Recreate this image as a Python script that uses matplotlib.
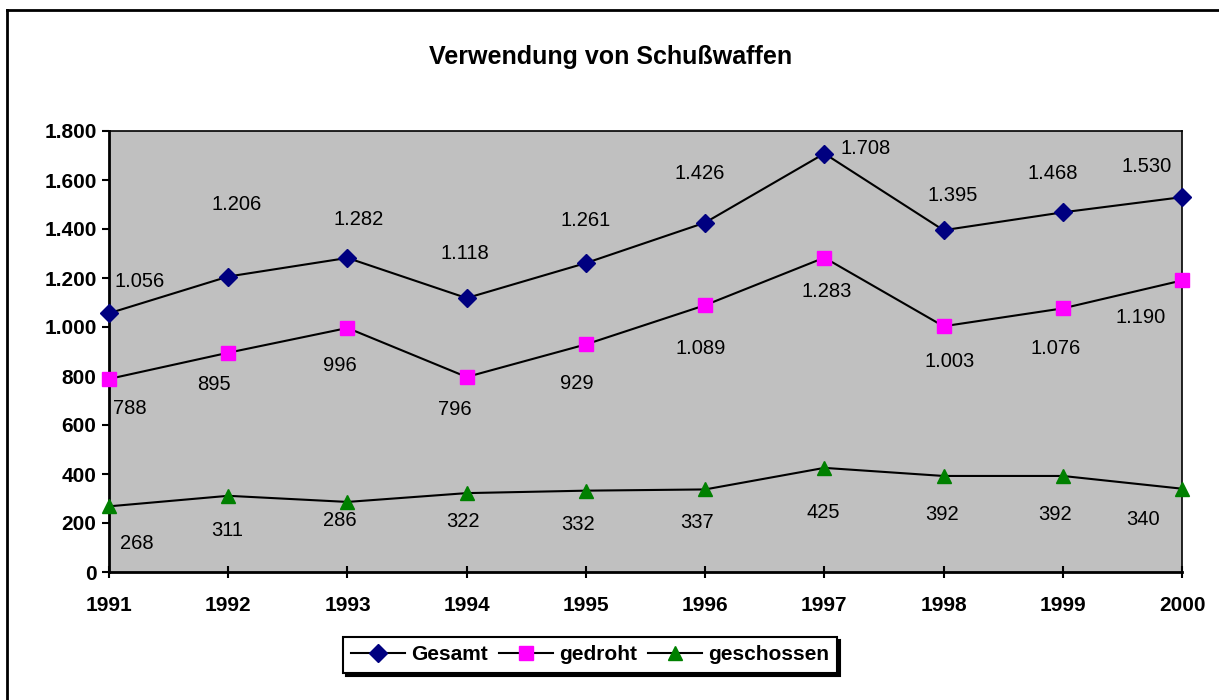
import matplotlib.pyplot as plt
from matplotlib.lines import Line2D
from matplotlib.ticker import FuncFormatter

plt.rcParams['font.family'] = ['Liberation Sans', 'DejaVu Sans']

# Daten
jahre = [1991, 1992, 1993, 1994, 1995, 1996, 1997, 1998, 1999, 2000]
gesamt = [1056, 1206, 1282, 1118, 1261, 1426, 1708, 1395, 1468, 1530]
gedroht = [788, 895, 996, 796, 929, 1089, 1283, 1003, 1076, 1190]
geschossen = [268, 311, 286, 322, 332, 337, 425, 392, 392, 340]

# Beschriftungs-Versatz in Pixeln (dx, dy)
off_gesamt = [(31, 32), (8, 72), (11, 38), (-2, 45), (0, 43), (-5, 49), (41, 5), (9, 35), (-10, 39), (-35, 31)]
off_gedroht = [(21, -30), (-14, -32), (-8, -38), (-12, -33), (-9, -39), (-4, -43), (2, -34), (6, -35), (-7, -40), (-41, -37)]
off_geschossen = [(28, -37), (-1, -35), (-8, -19), (-4, -28), (-8, -34), (-8, -33), (-1, -45), (-2, -39), (-8, -39), (-39, -31)]


def de_fmt(v, pos=None):
    return f"{int(v):,}".replace(",", ".")


fig = plt.figure(figsize=(12.19, 7.0), dpi=100)
ax = fig.add_axes([109 / 1219, 128 / 700, 1073 / 1219, 441 / 700])
ax.set_facecolor('#C0C0C0')

serien = [
    ('Gesamt', gesamt, 'D', '#000080', 9, off_gesamt),
    ('gedroht', gedroht, 's', '#FF00FF', 10, off_gedroht),
    ('geschossen', geschossen, '^', '#008000', 10, off_geschossen),
]
for name, werte, marker, farbe, ms, offs in serien:
    ax.plot(jahre, werte, color='black', linewidth=1.5, marker=marker,
            markersize=ms, markerfacecolor=farbe, markeredgecolor=farbe,
            label=name, clip_on=False, zorder=3)
    for x, y, (dx, dy) in zip(jahre, werte, offs):
        ax.annotate(de_fmt(y), (x, y), xytext=(dx, dy), textcoords='offset pixels',
                    ha='center', va='center', fontsize=14.5)

ax.set_xlim(1991, 2000)
ax.set_ylim(0, 1800)
ax.set_xticks(jahre)
ax.set_yticks(range(0, 1801, 200))
ax.yaxis.set_major_formatter(FuncFormatter(de_fmt))
for lbl in ax.get_xticklabels() + ax.get_yticklabels():
    lbl.set_fontweight('bold')
ax.tick_params(axis='y', direction='out', length=5, width=1.5, labelsize=15, pad=4)
ax.tick_params(axis='x', direction='inout', length=9, width=1.5, labelsize=15, pad=13)
for s in ['left', 'bottom']:
    ax.spines[s].set_linewidth(2)
for s in ['top', 'right']:
    ax.spines[s].set_linewidth(1.2)

fig.text(611 / 1219, 1 - 57 / 700, 'Verwendung von Schußwaffen', ha='center', va='center',
         fontsize=18, fontweight='bold')

leg = fig.legend(loc='center', bbox_to_anchor=(590 / 1219, 1 - 655 / 700), ncol=3,
                 frameon=True, fancybox=False, shadow={'color': 'black', 'alpha': 1},
                 prop={'weight': 'bold', 'size': 15}, handlelength=2.6, handletextpad=0.3,
                 columnspacing=0.5, borderpad=0.4, borderaxespad=0)
leg.get_frame().set_edgecolor('black')
leg.get_frame().set_linewidth(1.5)

# Rahmen des Diagramms
fig.add_artist(Line2D([7 / 1219, 1.0], [1 - 10 / 700, 1 - 10 / 700], transform=fig.transFigure,
                      color='black', linewidth=2))
fig.add_artist(Line2D([7 / 1219, 7 / 1219], [0, 1 - 10 / 700], transform=fig.transFigure,
                      color='black', linewidth=2))

plt.savefig('out.png', dpi=100)
